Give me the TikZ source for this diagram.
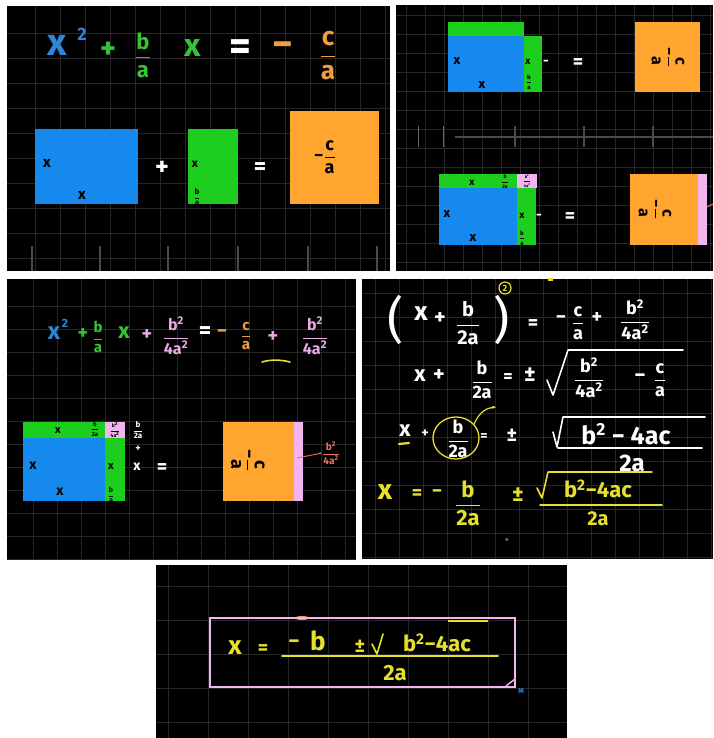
\documentclass[tikz,border=0pt]{standalone}
\usepackage{fontspec}
\usepackage{amsmath}
\setmainfont{Fira Sans}
\usetikzlibrary{arrows.meta}
\definecolor{sqblue}{HTML}{1589EE}
\definecolor{sqgreen}{HTML}{1ECE1E}
\definecolor{sqorange}{HTML}{FFA530}
\definecolor{sqpink}{HTML}{F3B5EF}
\definecolor{tblue}{HTML}{2F86D8}
\definecolor{tgreen}{HTML}{36C436}
\definecolor{torange}{HTML}{EE9E3E}
\definecolor{tpink}{HTML}{EAAAE4}
\definecolor{tyellow}{HTML}{E6DF2E}
\definecolor{tred}{HTML}{F07060}
\definecolor{gridc}{HTML}{262626}
\definecolor{sepc}{HTML}{4A4A4A}
\newcommand\fs[1]{\fontsize{#1}{#1}\selectfont\bfseries}
\newcommand\fr[2]{$\displaystyle\frac{\text{#1}}{\text{#2}}$}
\newcommand\sq{\textsuperscript{2}}
\tikzset{
  panel/.style={fill=black},
  gl/.style={draw=gridc, line width=0.6pt},
  t/.style={inner sep=0pt, outer sep=0pt},
  hand/.style={line width=1.6pt, line cap=round, line join=round},
}
\begin{document}
\begin{tikzpicture}[x=1pt,y=-1pt]
\fill[white] (0,0) rectangle (713,738);
\useasboundingbox (0,0) rectangle (713,738);

% ================= Panel 1 =================
\fill[panel] (7,6) rectangle (390,271);
\begin{scope}
\clip (7,6) rectangle (390,271);
\foreach \gx in {35,60,...,385} \draw[gl] (\gx,6) -- (\gx,271);
\foreach \gy in {33,58,...,258} \draw[gl] (7,\gy) -- (390,\gy);
\foreach \gx in {32,100,168,238,308,377} \draw[draw=sepc, line width=1.5pt] (\gx,246) -- (\gx,271);
\end{scope}
\node[t, text=tblue, font=\fs{38}] (p1x) at (57,45) {x};
\node[t, text=tblue, font=\fs{18}] (p1x2) at (82,34) {2};
\node[t, text=tgreen, font=\fs{30}] (p1pl) at (108,50) {+};
\node[t, text=tgreen, font=\fs{22}] (p1ba) at (143,55) {\fr{b}{a}};
\node[t, text=tgreen, font=\fs{32}] (p1bx) at (193,48) {x};
\node[t, text=white, font=\fs{42}] (p1eq) at (240,50) {=};
\node[t, text=torange, font=\fs{40}] (p1mi) at (283,50) {−};
\node[t, text=torange, font=\fs{26}] (p1ca) at (328,56) {\fr{c}{a}};

\fill[sqblue] (35,129) rectangle (138,204);
\node[t, font=\fs{15}] (p1bx1) at (47,164) {x};
\node[t, font=\fs{15}] (p1bx2) at (82,196) {x};
\node[t, text=white, font=\fs{26}] (p1plus) at (162,168) {+};
\fill[sqgreen] (188,129) rectangle (238,204);
\node[t, font=\fs{12}] (p1gx) at (195,164) {x};
\node[t, font=\fs{8}] (p1gba) at (197,197) {\fr{b}{a}};
\node[t, text=white, font=\fs{24}] (p1eq2) at (260,169) {=};
\fill[sqorange] (290,111) rectangle (379,204);
\node[t, font=\fs{18}] (p1oc) at (325,157) {−\fr{c}{a}};

% ================= Panel 2 =================
\fill[panel] (396,5) rectangle (713,271);
\begin{scope}
\clip (396,5) rectangle (713,271);
\foreach \gx in {406,425,...,710} \draw[gl] (\gx,5) -- (\gx,271);
\foreach \gy in {15,34,...,270} \draw[gl] (396,\gy) -- (713,\gy);
\draw[draw=sepc, line width=1.5pt] (455,137) -- (713,137);
\foreach \gx in {515,584,653} \draw[draw=sepc, line width=2pt] (\gx,126) -- (\gx,147);
\foreach \gx in {418,443} \draw[draw=gridc!70!white, line width=1pt] (\gx,126) -- (\gx,147);
\end{scope}
% top
\fill[sqgreen] (448,22) rectangle (524,36);
\fill[sqblue] (448,36) rectangle (524,92);
\fill[sqgreen] (524,36) rectangle (542,92);
\node[t, font=\fs{13}] (p2x1) at (457,61) {x};
\node[t, font=\fs{13}] (p2x2) at (482,85) {x};
\node[t, font=\fs{10}] (p2gx) at (528,62) {x};
\node[t, font=\fs{6}] (p2gba) at (529,82) {\fr{b}{a}};
\node[t, text=white, font=\fs{14}] (p2d) at (546,63) {-};
\node[t, text=white, font=\fs{20}] (p2eq) at (578,64) {=};
\fill[sqorange] (635,22) rectangle (700,92);
\node[t, font=\fs{16}, rotate=-90] (p2oc) at (668,57) {−\fr{c}{a}};
% bottom
\fill[sqgreen] (439,174) rectangle (517,188);
\fill[sqpink] (517,174) rectangle (537,188);
\fill[sqblue] (439,188) rectangle (517,245);
\fill[sqgreen] (517,188) rectangle (536,245);
\node[t, font=\fs{10}] (p2tx) at (472,183) {x};
\node[t, font=\fs{5}] (p2tb) at (505,182) {\fr{b}{2a}};
\node[t, font=\fs{4}] (p2pk) at (527,181) {\fr{b\sq}{4a\sq}};
\node[t, font=\fs{13}] (p2x3) at (447,214) {x};
\node[t, font=\fs{13}] (p2x4) at (473,238) {x};
\node[t, font=\fs{10}] (p2gx2) at (522,216) {x};
\node[t, font=\fs{6}] (p2gba2) at (522,238) {\fr{b}{a}};
\node[t, text=white, font=\fs{14}] (p2d2) at (539,217) {-};
\node[t, text=white, font=\fs{20}] (p2eq2) at (570,218) {=};
\fill[sqorange] (630,174) rectangle (698,245);
\fill[sqpink] (698,174) rectangle (707,245);
\node[t, font=\fs{16}, rotate=-90] (p2oc2) at (655,209) {−\fr{c}{a}};
\coordinate (p2r1) at (707,207);
\coordinate (p2r2) at (713,204);
\draw[tred, line width=1pt] (p2r1) -- (p2r2);

% ================= Panel 3 =================
\fill[panel] (7,279) rectangle (356,559);
\begin{scope}
\clip (7,279) rectangle (356,559);
\foreach \gx in {33,57,...,356} \draw[gl] (\gx,279) -- (\gx,559);
\foreach \gy in {306,329,...,559} \draw[gl] (7,\gy) -- (356,\gy);
\end{scope}
\node[t, text=tblue, font=\fs{24}] (p3x) at (54,333) {x};
\node[t, text=tblue, font=\fs{12}] (p3x2) at (65,323) {2};
\node[t, text=tgreen, font=\fs{20}] (p3pl) at (83,334) {+};
\node[t, text=tgreen, font=\fs{15}] (p3ba) at (98,337) {\fr{b}{a}};
\node[t, text=tgreen, font=\fs{22}] (p3bx) at (124,333) {x};
\node[t, text=tpink, font=\fs{20}] (p3pl2) at (147,335) {+};
\node[t, text=tpink, font=\fs{16}] (p3f1) at (176,336) {\fr{b\sq}{4a\sq}};
\node[t, text=white, font=\fs{24}] (p3eq) at (205,333) {=};
\node[t, text=torange, font=\fs{20}] (p3mi) at (222,334) {−};
\node[t, text=torange, font=\fs{15}] (p3ca) at (246,336) {\fr{c}{a}};
\node[t, text=tpink, font=\fs{20}] (p3pl3) at (273,337) {+};
\node[t, text=tpink, font=\fs{16}] (p3f2) at (315,336) {\fr{b\sq}{4a\sq}};
\coordinate (p3s1) at (262,362);
\coordinate (p3s2) at (290,362);
\draw[tyellow, hand] (p3s1) .. controls (272,359) and (282,360) .. (p3s2);

\fill[sqgreen] (23,422) rectangle (105,438);
\fill[sqpink] (105,422) rectangle (125,438);
\fill[sqblue] (23,438) rectangle (105,501);
\fill[sqgreen] (105,438) rectangle (125,501);
\node[t, font=\fs{11}] (p3tx) at (58,431) {x};
\node[t, font=\fs{6}] (p3tb) at (95,429) {\fr{b}{2a}};
\node[t, font=\fs{5}] (p3pk) at (115,430) {\fr{b\sq}{4a\sq}};
\node[t, font=\fs{14}] (p3x3) at (33,466) {x};
\node[t, font=\fs{14}] (p3x4) at (60,492) {x};
\node[t, font=\fs{11}] (p3gx) at (111,467) {x};
\node[t, font=\fs{7}] (p3gba) at (111,495) {\fr{b}{a}};
\node[t, text=white, font=\fs{8}] (p3wb) at (138,430) {\fr{b}{2a}};
\node[t, text=white, font=\fs{10}] (p3wp) at (138,449) {+};
\node[t, text=white, font=\fs{14}] (p3wx) at (137,467) {x};
\node[t, text=white, font=\fs{20}] (p3eq2) at (162,469) {=};
\fill[sqorange] (223,422) rectangle (294,501);
\fill[sqpink] (294,422) rectangle (303,501);
\node[t, font=\fs{18}, rotate=-90] (p3oc) at (248,460) {−\fr{c}{a}};
\coordinate (p3a1) at (297,458);
\node[t, text=tred, font=\fs{10}] (p3rf) at (331,453) {\fr{b\sq}{4a\sq}};
\draw[tred, line width=0.9pt, -{Stealth[length=3pt]}] (p3a1) -- (p3rf.west);

% ================= Panel 4 =================
\fill[panel] (362,279) rectangle (713,559);
\begin{scope}
\clip (362,279) rectangle (713,559);
\foreach \gx in {375,399,...,713} \draw[gl] (\gx,279) -- (\gx,559);
\foreach \gy in {293,317,...,559} \draw[gl] (362,\gy) -- (713,\gy);
\end{scope}
% line 1
\node[t, text=white, font=\fontsize{50}{50}\selectfont] (p4lp) at (396,320) {(};
\node[t, text=white, font=\fs{26}] (p4x) at (421,314) {x};
\node[t, text=white, font=\fs{22}] (p4pl) at (440,318) {+};
\node[t, text=white, font=\fs{20}] (p4f) at (468,323) {\fr{b}{2a}};
\node[t, text=white, font=\fontsize{50}{50}\selectfont] (p4rp) at (502,320) {)};
\node[t, text=tyellow, font=\fs{9}, draw=tyellow, circle, line width=1.2pt, inner sep=1.5pt] (p4two) at (505,288) {2};
\fill[tyellow] (548,278) rectangle (553,281);
\node[t, text=white, font=\fs{20}] (p4eq) at (533,325) {=};
\node[t, text=white, font=\fs{20}] (p4mi) at (561,320) {−};
\node[t, text=white, font=\fs{18}] (p4ca) at (578,323) {\fr{c}{a}};
\node[t, text=white, font=\fs{20}] (p4pl2) at (597,318) {+};
\node[t, text=white, font=\fs{18}] (p4f2) at (635,320) {\fr{b\sq}{4a\sq}};
% line 2
\node[t, text=white, font=\fs{22}] (p4x2) at (420,376) {x};
\node[t, text=white, font=\fs{22}] (p4pl3) at (439,375) {+};
\node[t, text=white, font=\fs{18}] (p4f3) at (482,380) {\fr{b}{2a}};
\node[t, text=white, font=\fs{18}] (p4eq2) at (508,378) {=};
\node[t, text=white, font=\fs{22}] (p4pm) at (530,375) {±};
\coordinate (p4r1) at (547,380);
\coordinate (p4r2) at (553,395);
\coordinate (p4r3) at (568,350);
\coordinate (p4r4) at (683,350);
\draw[white, hand] (p4r1) -- (p4r2) -- (p4r3) -- (p4r4);
\node[t, text=white, font=\fs{18}] (p4f4) at (589,378) {\fr{b\sq}{4a\sq}};
\node[t, text=white, font=\fs{22}] (p4mi2) at (640,378) {−};
\node[t, text=white, font=\fs{18}] (p4ca2) at (660,380) {\fr{c}{a}};
% line 3
\coordinate (p4u1) at (399,444);
\coordinate (p4u2) at (409,443);
\draw[tyellow, line width=2.2pt, line cap=round] (p4u1) -- (p4u2);
\node[t, text=white, font=\fs{22}] (p4x3) at (405,431) {x};
\node[t, text=white, font=\fs{14}] (p4pl4) at (425,434) {+};
\node[t, text=white, font=\fs{18}] (p4f5) at (458,439) {\fr{b}{2a}};
\draw[tyellow, line width=1.3pt] (456,438) ellipse (23 and 21);
\coordinate (p4c1) at (474,424);
\coordinate (p4c2) at (496,407);
\draw[tyellow, line width=1.2pt, -{Stealth[length=4pt]}] (p4c1) .. controls (480,411) and (487,408) .. (p4c2);
\node[t, text=white, font=\fs{14}] (p4eq3) at (484,437) {=};
\node[t, text=white, font=\fs{20}] (p4pm2) at (512,435) {±};
\coordinate (p4s1) at (553,432);
\coordinate (p4s2) at (557,447);
\coordinate (p4s3) at (563,417);
\coordinate (p4s4) at (705,417);
\draw[white, hand] (p4s1) -- (p4s2) -- (p4s3) -- (p4s4);
\node[t, text=white, font=\fs{25}] (p4rad) at (626,434) {b\sq\ − 4ac};
\coordinate (p4b1) at (558,448);
\coordinate (p4b2) at (702,448);
\draw[white, hand] (p4b1) -- (p4b2);
\node[t, text=white, font=\fs{24}] (p4den) at (632,463) {2a};
% line 4 (yellow)
\node[t, text=tyellow, font=\fs{28}] (p4x4) at (385,492) {x};
\node[t, text=tyellow, font=\fs{20}] (p4eq4) at (417,495) {=};
\node[t, text=tyellow, font=\fs{20}] (p4mi3) at (437,494) {−};
\node[t, text=tyellow, font=\fs{22}] (p4f6) at (468,503) {\fr{b}{2a}};
\node[t, text=tyellow, font=\fs{22}] (p4pm3) at (518,495) {±};
\coordinate (p4y1) at (537,488);
\coordinate (p4y2) at (542,498);
\coordinate (p4y3) at (548,472);
\coordinate (p4y4) at (652,472);
\draw[tyellow, hand] (p4y1) -- (p4y2) -- (p4y3) -- (p4y4);
\node[t, text=tyellow, font=\fs{22}] (p4rad2) at (598,489) {b\sq−4ac};
\coordinate (p4z1) at (540,505);
\coordinate (p4z2) at (662,505);
\draw[tyellow, hand] (p4z1) -- (p4z2);
\node[t, text=tyellow, font=\fs{20}] (p4den2) at (598,519) {2a};
\node[t, text=gray, font=\fs{8}] (p4cross) at (507,540) {+};

% ================= Panel 5 =================
\fill[panel] (156,565) rectangle (567,738);
\begin{scope}
\clip (156,565) rectangle (567,738);
\foreach \gx in {168,208,...,567} \draw[gl] (\gx,565) -- (\gx,738);
\foreach \gy in {586,620,...,738} \draw[gl] (156,\gy) -- (567,\gy);
\end{scope}
\fill[torange] (302,618) ellipse (7 and 2);
\coordinate (p5o1) at (448,621);
\coordinate (p5o2) at (488,621);
\draw[tyellow, line width=2pt] (p5o1) -- (p5o2);
\node[t, draw=sqpink, line width=1.6pt, minimum width=305pt, minimum height=69pt] (p5box) at (362.5,652.5) {};
\coordinate (p5k1) at (506,686);
\coordinate (p5k2) at (515,679);
\draw[sqpink, line width=1.4pt] (p5k1) -- (p5k2);
\node[t, text=tblue, font=\fs{7}] (p5m) at (521,691) {M};
\node[t, text=tyellow, font=\fs{26}] (p5x) at (235,648) {x};
\node[t, text=tyellow, font=\fs{20}] (p5eq) at (263,650) {=};
\node[t, text=tyellow, font=\fs{22}] (p5mi) at (294,644) {−};
\node[t, text=tyellow, font=\fs{26}] (p5b) at (318,641) {b};
\node[t, text=tyellow, font=\fs{20}] (p5pm) at (360,646) {±};
\coordinate (p5r1) at (372,644);
\coordinate (p5r2) at (377,654);
\coordinate (p5r3) at (383,634);
\draw[tyellow, hand] (p5r1) -- (p5r2) -- (p5r3);
\node[t, text=tyellow, font=\fs{22}] (p5rad) at (437,643) {b\sq−4ac};
\coordinate (p5f1) at (282,656);
\coordinate (p5f2) at (498,656);
\draw[tyellow, line width=1.8pt, line cap=round] (p5f1) -- (p5f2);
\node[t, text=tyellow, font=\fs{22}] (p5den) at (395,673) {2a};
\end{tikzpicture}
\end{document}
